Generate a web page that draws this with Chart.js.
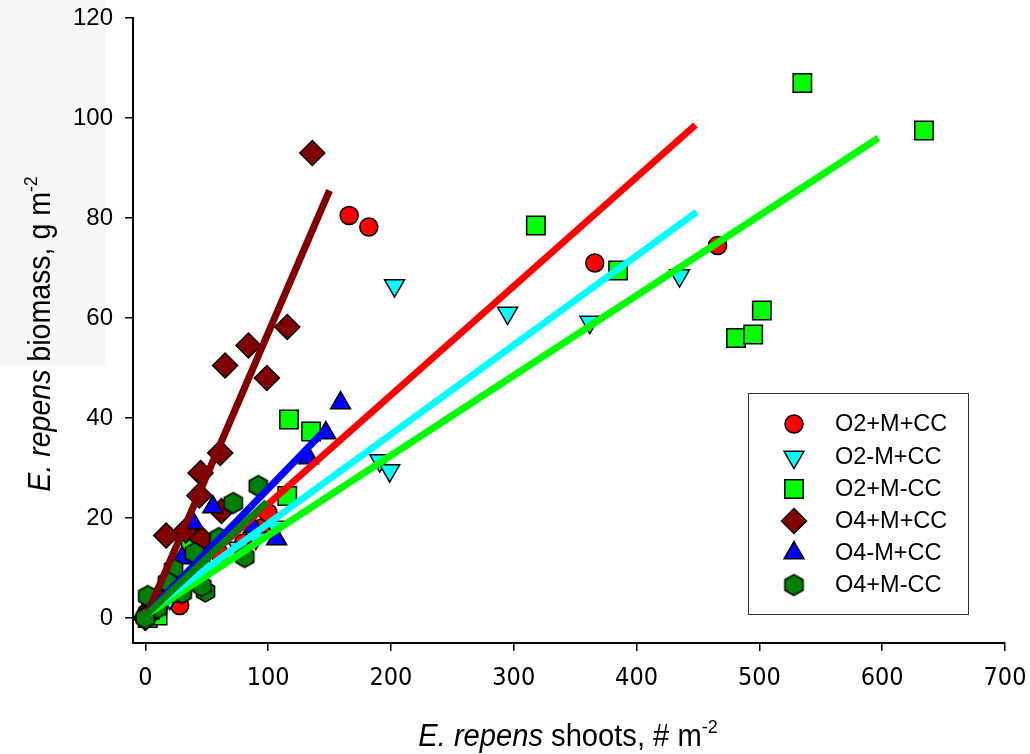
<!DOCTYPE html>
<html>
<head>
<meta charset="utf-8">
<script src="https://cdn.jsdelivr.net/npm/chart.js@4.4.0/dist/chart.umd.min.js"></script>
<style>
  html, body { margin: 0; padding: 0; background: #fff; }
  #wrap { width: 1030px; height: 754px; }
</style>
</head>
<body>
<div id="wrap"><canvas id="chart" width="1030" height="754"></canvas></div>
<script>
// series, [shoots, biomass]
const o2_pM_pCC = [[166,80.5],[182,78.2],[366,71],[466,74.5],[2,0.5],[5,1.5],[10,3.5],[28,2.5],[30,5],[40,8],[60,13],[80,15],[95,18],[100,21]];
const o2_mM_pCC = [[203,66.5],[295,61],[362,59.2],[435,68.5],[191,31.5],[199,29.5],[2,0.3],[5,1],[20,4],[40,8],[76,14],[90,16],[106,18.2]];
const o2_pM_mCC = [[535,107],[634,97.5],[318,78.5],[385,69.5],[481,56],[495,56.7],[502,61.5],[117,39.7],[135,37.3],[115.6,24.4],[37,14],[45,12],[20,5],[5,1],[2,0],[10,0.5]];
const o4_pM_pCC = [[136,93],[65,50.5],[84,54.5],[115.6,58.2],[99,48],[61,33],[45,29],[44,24.5],[62,21.4],[17,16.5],[33,17.5],[46,15.8],[10,4],[5,2],[2,0.5],[0,0]];
const o4_mM_pCC = [[159,43],[147,37],[133,32],[55,22.2],[39,19],[30,12],[20,8],[10,3],[3,1],[88,18.2],[107,15.8]];
const o4_pM_mCC = [[92,26.4],[71.6,23],[81,12.2],[49,5.3],[46,6.4],[23,9.8],[18,7.2],[2,4.4],[30,5],[10,2],[0,0],[60,16],[40,13]];

// fitted lines, start and end
const fit_o2_pM_pCC = [[0,1],[448,98.6]];
const fit_o2_mM_pCC = [[0,1],[449,81.2]];
const fit_o2_pM_mCC = [[0,0.5],[597,96]];
const fit_o4_pM_pCC = [[1,0.5],[150,85.5]];
const fit_o4_mM_pCC = [[0,0.5],[146,37.5]];
const fit_o4_pM_mCC = [[0,0.5],[99,23.2]];

const names = ['O2+M+CC', 'O2-M+CC', 'O2+M-CC', 'O4+M+CC', 'O4-M+CC', 'O4+M-CC'];
const xTicks = [0, 100, 200, 300, 400, 500, 600, 700];
const yTicks = [0, 20, 40, 60, 80, 100, 120];

// hexagon marker
function hexagon(r, fill) {
  const c = document.createElement('canvas');
  const s = Math.ceil(r * 2 + 4);
  c.width = s; c.height = s;
  const g = c.getContext('2d');
  g.beginPath();
  for (let i = 0; i < 6; i++) {
    const a = Math.PI / 2 + i * Math.PI / 3;
    const px = s / 2 + r * Math.cos(a), py = s / 2 + r * Math.sin(a);
    if (i === 0) g.moveTo(px, py); else g.lineTo(px, py);
  }
  g.closePath();
  g.fillStyle = fill;
  g.fill();
  g.lineWidth = 1.5;
  g.strokeStyle = '#000';
  g.stroke();
  return c;
}
const hex = hexagon(10.5, '#008000');

const toXY = arr => arr.map(p => ({ x: p[0], y: p[1] }));

const markers = [
  { style: 'circle', radius: 9, rotation: 0, color: '#ff0000' },
  { style: 'triangle', radius: 11.5, rotation: 180, color: '#00ffff' },
  { style: 'rect', radius: 13, rotation: 0, color: '#00ff00' },
  { style: 'rectRot', radius: 12.5, rotation: 0, color: '#800000' },
  { style: 'triangle', radius: 11.5, rotation: 0, color: '#0000ff' },
  { style: hex, radius: 11, rotation: 0, color: '#008000' }
];
const seriesData = [o2_pM_pCC, o2_mM_pCC, o2_pM_mCC, o4_pM_pCC, o4_mM_pCC, o4_pM_mCC];
const fitData = [fit_o2_pM_pCC, fit_o2_mM_pCC, fit_o2_pM_mCC, fit_o4_pM_pCC, fit_o4_mM_pCC, fit_o4_pM_mCC];
const fitOrder = [4, 5, 6, 3, 2, 1];

const datasets = [];
seriesData.forEach((d, i) => {
  datasets.push({
    label: names[i],
    data: toXY(d),
    order: 16 - i,
    pointStyle: markers[i].style,
    pointRadius: markers[i].radius,
    rotation: markers[i].rotation,
    backgroundColor: markers[i].color,
    borderColor: '#000',
    pointBorderWidth: 1.5,
    showLine: false
  });
});
fitData.forEach((d, i) => {
  datasets.push({
    label: names[i] + ' fit',
    data: toXY(d),
    order: fitOrder[i],
    showLine: true,
    borderColor: markers[i].color,
    borderWidth: 7,
    borderCapStyle: 'butt',
    pointRadius: 0
  });
});

// text with italic part and superscript, squeezed a bit like a narrow font
function richText(ctx, parts, size, family, squeeze) {
  let w = 0;
  parts.forEach(p => {
    ctx.font = (p.italic ? 'italic ' : '') + (p.sup ? size * 0.62 : size) + 'px ' + family;
    p.w = ctx.measureText(p.t).width;
    w += p.w;
  });
  ctx.scale(squeeze, 1);
  let x = -w / 2;
  parts.forEach(p => {
    ctx.font = (p.italic ? 'italic ' : '') + (p.sup ? size * 0.62 : size) + 'px ' + family;
    ctx.fillText(p.t, x, p.sup ? -size * 0.42 : 0);
    x += p.w;
  });
}

const decor = {
  id: 'decor',
  beforeDraw(chart) {
    const ctx = chart.ctx;
    ctx.save();
    ctx.fillStyle = '#f7f7f7';
    ctx.fillRect(0, 0, 105, 365);
    ctx.restore();
  },
  afterDraw(chart) {
    const ctx = chart.ctx;
    const fam = '"Liberation Sans", Arial, sans-serif';
    ctx.save();
    ctx.fillStyle = '#000';
    ctx.textBaseline = 'alphabetic';
    ctx.translate(568, 746);
    richText(ctx, [{ t: 'E. repens', italic: true }, { t: ' shoots, # m' }, { t: '-2', sup: true }], 31, fam, 0.94);
    ctx.restore();

    ctx.save();
    ctx.fillStyle = '#000';
    ctx.translate(50, 334);
    ctx.rotate(-Math.PI / 2);
    richText(ctx, [{ t: 'E. repens', italic: true }, { t: ' biomass, g m' }, { t: '-2', sup: true }], 31, fam, 0.92);
    ctx.restore();

    // legend
    ctx.save();
    ctx.fillStyle = '#fff';
    ctx.fillRect(748, 393, 220, 221);
    ctx.strokeStyle = '#333';
    ctx.lineWidth = 1;
    ctx.strokeRect(748.5, 393.5, 220, 221);
    const rows = [424, 457, 489, 521, 553, 585];
    names.forEach((n, i) => {
      ctx.fillStyle = markers[i].color;
      ctx.strokeStyle = '#000';
      ctx.lineWidth = 1.5;
      Chart.helpers.drawPoint(ctx, {
        pointStyle: markers[i].style,
        radius: markers[i].radius,
        rotation: markers[i].rotation,
        borderWidth: 1.5
      }, 794, rows[i]);
      ctx.fillStyle = '#000';
      ctx.font = '23.5px "Liberation Sans", Arial, sans-serif';
      ctx.textBaseline = 'middle';
      ctx.fillText(n, 835, rows[i] + 1);
    });
    ctx.restore();
  }
};

new Chart(document.getElementById('chart'), {
  type: 'scatter',
  data: { datasets: datasets },
  plugins: [decor],
  options: {
    responsive: false,
    animation: false,
    layout: { padding: { left: 0, top: 18, right: 25, bottom: 0 } },
    plugins: { legend: { display: false }, tooltip: { enabled: false } },
    scales: {
      x: {
        type: 'linear', min: -10, max: 700,
        afterBuildTicks: s => { s.ticks = xTicks.map(v => ({ value: v })); },
        afterFit: s => { s.height = 111; s.paddingLeft = 0; s.paddingRight = 0; },
        ticks: { color: '#000', padding: 12, maxRotation: 0,
          font: { family: '"DejaVu Sans Condensed", "Liberation Sans", Arial, sans-serif', size: 25 } },
        grid: { drawOnChartArea: false, drawTicks: true, tickLength: 8, color: '#000', lineWidth: 1.5 },
        border: { display: true, color: '#000', width: 2 }
      },
      y: {
        type: 'linear', min: -5, max: 120,
        afterBuildTicks: s => { s.ticks = yTicks.map(v => ({ value: v })); },
        afterFit: s => { s.width = 133; s.paddingTop = 0; s.paddingBottom = 0; },
        ticks: { color: '#000', padding: 12,
          font: { family: '"Liberation Sans", Arial, sans-serif', size: 24 } },
        grid: { drawOnChartArea: false, drawTicks: true, tickLength: 8, color: '#000', lineWidth: 1.5 },
        border: { display: true, color: '#000', width: 2 }
      }
    }
  }
});
</script>
</body>
</html>
